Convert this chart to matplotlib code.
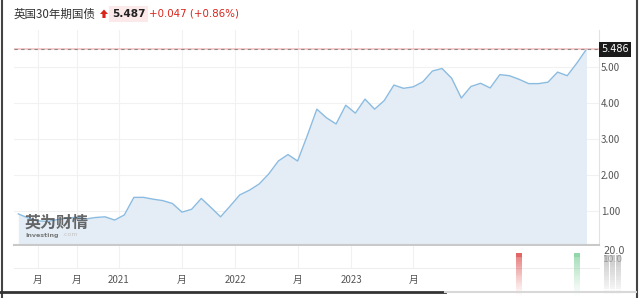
import numpy as np
import matplotlib
matplotlib.use("Agg")
import matplotlib.pyplot as plt
from matplotlib.lines import Line2D
from matplotlib.patches import Rectangle, Polygon
from matplotlib.transforms import blended_transform_factory

plt.rcParams["font.family"] = ["Noto Sans CJK SC", "DejaVu Sans"]

# monthly closing yields, UK 30y gilt
yields = [
    0.91, 0.80, 0.72, 0.70, 0.75, 0.79, 0.82, 0.77, 0.81, 0.83,
    0.74, 0.88, 1.37, 1.37, 1.32, 1.28, 1.20, 0.96, 1.04, 1.34,
    1.09, 0.83, 1.13, 1.44, 1.57, 1.74, 2.02, 2.38, 2.56, 2.38,
    3.08, 3.82, 3.58, 3.41, 3.93, 3.71, 4.10, 3.82, 4.06, 4.49,
    4.40, 4.44, 4.58, 4.88, 4.95, 4.68, 4.13, 4.45, 4.54, 4.41,
    4.78, 4.75, 4.65, 4.53, 4.53, 4.57, 4.85, 4.75, 5.10, 5.486,
]
last_value = 5.486

# volume pane: only two bars visible
vol_idx = [52, 58]
vol_val = [20.0, 20.0]
vol_up = [False, True]

tick_pos = [2.05, 6.1, 10.45, 17.0, 22.5, 29.05, 34.55, 41.0]
tick_labels = ["月", "月", "2021", "月", "2022", "月", "2023", "月"]
ytick_vals = [1, 2, 3, 4, 5]

W, H = 640, 298


def rect(x0, y0, x1, y1):
    return [x0 / W, 1 - y1 / H, (x1 - x0) / W, (y1 - y0) / H]


def fade_bar(axis, x, top, width, color, n=24):
    # bar that fades towards the bottom
    edges = np.linspace(top, 0, n + 1)
    for i in range(n):
        a = 0.85 if i < 2 else 0.75 * (1 - i / n) ** 1.2
        axis.bar(x, edges[i] - edges[i + 1], bottom=edges[i + 1], width=width,
                 color=color, alpha=a, lw=0)


fig = plt.figure(figsize=(6.4, 2.98), dpi=100)
fig.patch.set_facecolor("white")

xlim = (-0.45, 60.3)
x = np.arange(len(yields))

ax = fig.add_axes(rect(14, 30, 599, 245))
ax.fill_between(x, yields, 0, color="#e4edf5", lw=0, zorder=1)
ax.plot(x, yields, color="#8bbbe0", lw=1.0, zorder=3)
ax.axhline(last_value, color="#f5c2c2", lw=1.2, zorder=4)
ax.axhline(last_value, color="#8a8a8a", lw=0.8, dashes=(3, 3), zorder=5)
ax.set_xlim(*xlim)
ax.set_ylim(0.047, 6.02)
ax.set_xticks(tick_pos)
ax.set_xticklabels([])
ax.set_yticks(ytick_vals)
ax.set_yticklabels([f"{v:.2f}" for v in ytick_vals])
ax.yaxis.tick_right()
ax.tick_params(axis="both", length=0, labelsize=7, colors="#555555", pad=1.5)
ax.grid(color="#f1f1f1", lw=0.8, zorder=0)
ax.set_axisbelow(True)
for s in ["top", "left"]:
    ax.spines[s].set_visible(False)
ax.spines["right"].set_color("#e2e2e2")
ax.spines["bottom"].set_color("#c9c9c9")
ax.spines["bottom"].set_linewidth(1.5)

tr = blended_transform_factory(ax.transAxes, ax.transData)
ax.text(1.004, last_value, "5.486", transform=tr, ha="left", va="center",
        color="white", fontsize=7, family="DejaVu Sans",
        bbox=dict(boxstyle="square,pad=0.25", fc="#1b1b1b", ec="none"))

# time axis pane
ax2 = fig.add_axes(rect(14, 246, 599, 268), sharex=ax)
ax2.set_ylim(0, 1)
ax2.set_yticks([])
ax2.set_xticks(tick_pos)
ax2.set_xticklabels(tick_labels)
ax2.tick_params(axis="x", length=0, labelsize=7, colors="#555555", pad=5)
ax2.grid(axis="x", color="#f1f1f1", lw=0.8)
for s in ["top", "left", "right"]:
    ax2.spines[s].set_visible(False)
ax2.spines["bottom"].set_color("#eeeeee")

# volume bars
axv = fig.add_axes(rect(14, 246, 599, 296), sharex=ax)
axv.patch.set_alpha(0)
axv.set_ylim(0, 23.3)
axv.axis("off")
for i, v, up in zip(vol_idx, vol_val, vol_up):
    fade_bar(axv, i, v, 0.69, "#7fd09a" if up else "#dd4b4b")

fig.text(603 / W, 1 - 251 / H, "20.0", fontsize=7, color="#555555",
         va="center", family="DejaVu Sans")
fig.text(603 / W, 1 - 259 / H, "10.0", fontsize=6.5, color="#777777",
         va="center", family="DejaVu Sans", alpha=0.6)
for gx in [604, 610, 616]:
    for j, gy in enumerate(np.linspace(255, 292, 16)):
        fig.patches.append(Rectangle((gx / W, 1 - (gy + 2.4) / H), 5 / W, 2.4 / H,
                                     transform=fig.transFigure, fc="#9a9a9a",
                                     alpha=0.55 * (1 - j / 16), lw=0))

# title row
ty = 1 - 14 / H
fig.text(14 / W, ty, "英国30年期国债", fontsize=8.3, color="#333333", va="center")
arrow = [(104, 9.5), (108, 14), (105.6, 14), (105.6, 18), (102.4, 18),
         (102.4, 14), (100, 14)]
fig.patches.append(Polygon([(px / W, 1 - py / H) for px, py in arrow],
                           closed=True, transform=fig.transFigure,
                           fc="#d9251c", ec="none"))
fig.text(112 / W, ty, "5.487", fontsize=7.6, weight="bold", color="#222222",
         va="center", family="DejaVu Sans",
         bbox=dict(boxstyle="square,pad=0.25", fc="#fce9e9", ec="none"))
fig.text(149 / W, ty, "+0.047 (+0.86%)", fontsize=7.4, color="#d9251c",
         va="center", family="DejaVu Sans")

# watermark
fig.text(25 / W, 1 - 223 / H, "英为财情", fontsize=11.5, weight="bold",
         color="#4d4d4d", alpha=0.85, va="center")
fig.text(25 / W, 1 - 235 / H, "Investing", fontsize=4.6, weight="bold",
         color="#666666", alpha=0.85, va="center", family="DejaVu Sans")
fig.text(62 / W, 1 - 235 / H, ".com", fontsize=4.5, color="#c4c4c4",
         va="center", family="DejaVu Sans")

# screenshot frame
fig.add_artist(Line2D([1.5 / W, 1.5 / W], [0, 1], transform=fig.transFigure,
                      color="#444444", lw=1.5))
fig.add_artist(Line2D([636.5 / W, 636.5 / W], [0, 1], transform=fig.transFigure,
                      color="#444444", lw=1.5))
fig.add_artist(Line2D([0, 445 / W], [1 - 292 / H] * 2, transform=fig.transFigure,
                      color="#333333", lw=2))
fig.add_artist(Line2D([445 / W, 636 / W], [1 - 292 / H] * 2, transform=fig.transFigure,
                      color="#d8d8d8", lw=1.5))

fig.savefig("out.png", dpi=100, facecolor="white")
